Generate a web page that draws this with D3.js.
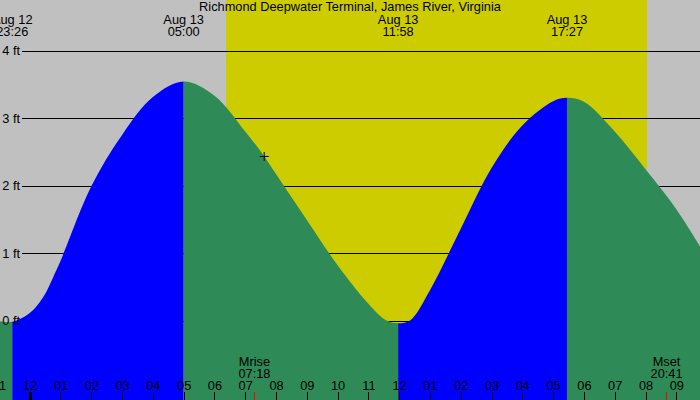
<!DOCTYPE html>
<html lang="en">
<head>
<meta charset="utf-8">
<title>Richmond Deepwater Terminal tides</title>
<script src="https://d3js.org/d3.v7.min.js"></script>
<style>
body { margin: 0; background: #fff; }
#chart text { font-family: "Liberation Sans", Arial, sans-serif; font-size: 12.8px; fill: #000; }
.grid line, .hours line { stroke: #000; shape-rendering: crispEdges; }
.grid path, .hours path, .ylab path, .ylab line { display: none; }
</style>
</head>
<body>
<div id="chart"></div>
<script>
// all times are hours from midnight, Aug 13 (negative = Aug 12)
var title = "Richmond Deepwater Terminal, James River, Virginia";

// high / low waters
var extremeDays = ["Aug 12", "Aug 13", "Aug 13", "Aug 13"];
var extremeTimes = ["23:26", "05:00", "11:58", "17:27"];
var extremeHeights = [-0.02, 3.54, -0.04, 3.30];

// water level (ft)
var sampleHours = [-0.965, -0.567, 0, 0.44, 0.77, 1, 2, 3, 4, 5, 6, 7, 7.62, 8, 9, 10, 11, 11.59, 11.967,
  12.35, 13, 14, 15, 16, 17, 17.45, 18, 19, 20, 21, 21.77];
var sampleHeights = [-0.01, -0.02, 0.11, 0.35, 0.65, 0.88, 1.99, 2.75, 3.31, 3.54, 3.33, 2.80, 2.43, 2.17, 1.49, 0.82, 0.25, 0.00, -0.04,
  0.00, 0.45, 1.36, 2.26, 2.89, 3.25, 3.30, 3.24, 2.80, 2.24, 1.65, 1.10];

var heightTicks = [0, 1, 2, 3, 4];
var heightLabels = ["0 ft", "1 ft", "2 ft", "3 ft", "4 ft"];

var hourTicks = d3.range(-1, 22);
var hourLabels = ["11", "12", "01", "02", "03", "04", "05", "06", "07", "08", "09", "10", "11",
  "12", "01", "02", "03", "04", "05", "06", "07", "08", "09"];

var sunrise = "06:23", sunset = "20:03";
var moonEvents = ["Mrise", "Mset"];
var moonTimes = ["07:18", "20:41"];
var nowTime = "07:37", nowHeight = 2.43;

var W = 700, H = 400;

function hrs(s, day) {
  var p = s.split(":");
  return +p[0] + p[1] / 60 + (day == "Aug 12" ? -24 : 0);
}

var x = d3.scaleLinear().domain([-0.9646, 21.77]).range([0, W]);
var y = d3.scaleLinear().domain([0, 4]).range([320.5, 50.5]);

var svg = d3.select("#chart").append("svg")
  .attr("width", W)
  .attr("height", H);

// night / day background
svg.append("rect").attr("width", W).attr("height", H).attr("fill", "#c0c0c0");
svg.append("rect")
  .attr("x", x(hrs(sunrise)))
  .attr("width", x(hrs(sunset)) - x(hrs(sunrise)))
  .attr("height", H)
  .attr("fill", "#cccc00")
  .attr("shape-rendering", "crispEdges");

// height lines (under the water)
svg.append("g")
  .attr("class", "grid")
  .attr("transform", "translate(22,0)")
  .call(d3.axisLeft(y).tickValues(heightTicks).tickSize(-(W - 22)).tickFormat(""));

// water
var samples = sampleHours.map(function(d, i) { return { t: d, h: sampleHeights[i] }; });
var area = d3.area()
  .x(function(d) { return x(d.t); })
  .y0(H)
  .y1(function(d) { return y(d.h); })
  .curve(d3.curveCatmullRom.alpha(0.5));

svg.append("defs").append("clipPath").attr("id", "water")
  .append("path").attr("d", area(samples));

var ext = extremeTimes.map(function(s, i) { return hrs(s, extremeDays[i]); });
var bounds = [x.domain()[0]].concat(ext, [x.domain()[1]]);
var segs = d3.range(bounds.length - 1).map(function(i) {
  // before a high the water rises, before a low it falls
  var rising = i < ext.length ? extremeHeights[i] > 1.5 : extremeHeights[ext.length - 1] < 1.5;
  return { a: bounds[i], b: bounds[i + 1], rising: rising };
});

svg.append("g")
  .attr("clip-path", "url(#water)")
  .selectAll("rect")
  .data(segs)
  .enter()
  .append("rect")
  .attr("x", function(d) { return x(d.a); })
  .attr("width", function(d) { return x(d.b) - x(d.a); })
  .attr("y", 0)
  .attr("height", H)
  .attr("fill", function(d) { return d.rising ? "#0000ff" : "#2e8b57"; });

// title
svg.append("text")
  .attr("x", W / 2)
  .attr("y", 11)
  .attr("text-anchor", "middle")
  .text(title);

// high/low labels
var tideLabels = svg.append("g").selectAll("g")
  .data(extremeTimes)
  .enter()
  .append("g")
  .attr("transform", function(d, i) { return "translate(" + x(ext[i]) + ",0)"; });
tideLabels.append("text").attr("y", 24).attr("text-anchor", "middle").text(function(d, i) { return extremeDays[i]; });
tideLabels.append("text").attr("y", 36).attr("text-anchor", "middle").text(function(d) { return d; });

// height labels
svg.append("g")
  .attr("class", "ylab")
  .attr("transform", "translate(22,0)")
  .call(d3.axisLeft(y).tickValues(heightTicks).tickSize(0).tickPadding(2)
    .tickFormat(function(d, i) { return heightLabels[i]; }));

// hour ticks along the bottom
var hours = svg.append("g")
  .attr("class", "hours")
  .attr("transform", "translate(0," + H + ")")
  .call(d3.axisTop(x).tickValues(hourTicks).tickSize(8).tickPadding(2)
    .tickFormat(function(d, i) { return hourLabels[i]; }));
hours.selectAll(".tick line")
  .attr("stroke-width", function(d) { return d % 24 == 0 ? 3 : 1; });

// moon rise / set
var moon = svg.append("g").selectAll("g")
  .data(moonTimes)
  .enter()
  .append("g")
  .attr("transform", function(d) { return "translate(" + x(hrs(d)) + ",0)"; });
moon.append("line")
  .attr("y1", H - 8).attr("y2", H)
  .attr("stroke", "#ff0000")
  .attr("shape-rendering", "crispEdges");
moon.append("text").attr("y", 366).attr("text-anchor", "middle").text(function(d, i) { return moonEvents[i]; });
moon.append("text").attr("y", 378).attr("text-anchor", "middle").text(function(d) { return d; });

// current level marker
var cx = x(hrs(nowTime)), cy = y(nowHeight);
svg.append("path")
  .attr("d", "M" + (cx - 4.5) + "," + cy + "h9M" + cx + "," + (cy - 4.5) + "v9")
  .attr("stroke", "#000")
  .attr("fill", "none");
</script>
</body>
</html>
